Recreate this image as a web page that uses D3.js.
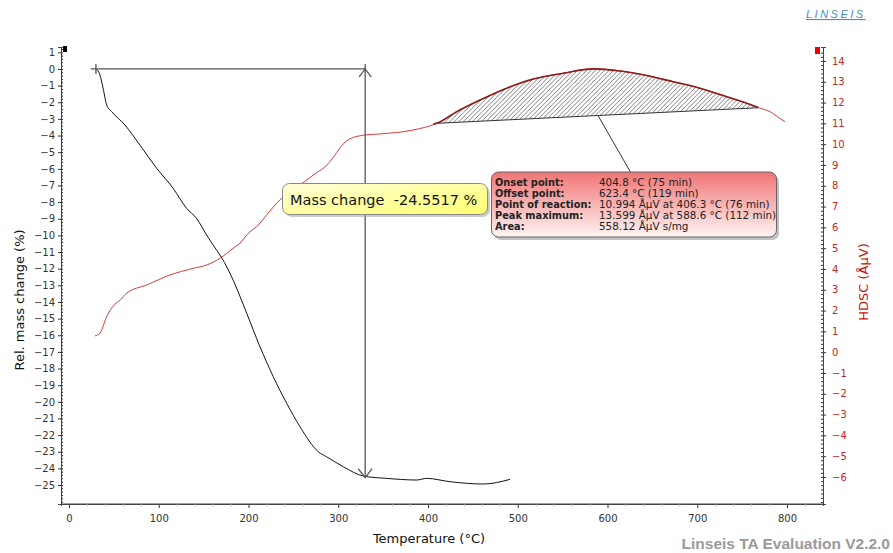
<!DOCTYPE html>
<html>
<head>
<meta charset="utf-8">
<script src="https://cdn.jsdelivr.net/npm/d3@7"></script>
<style>
  body { margin: 0; background: #fff; }
  svg { display: block; font-family: "DejaVu Sans", Verdana, sans-serif; }
</style>
</head>
<body>
<div class="chart"></div>
<script>
// TG curve (relative mass change, %)
const tgTemp = [30, 34.5, 38, 42, 47.5, 62.4, 79, 97.7, 116, 131, 142, 153.4, 164.6, 170, 183, 198, 212.8, 227.6, 242.6, 257.4, 277.8, 287, 305.6, 328, 354, 387.4, 398.5, 424.5, 461.6, 491.4];
const tgMass = [0, -0.36, -1.16, -2.16, -2.56, -3.37, -4.57, -5.97, -7.17, -8.37, -8.97, -9.98, -10.9, -11.33, -12.7, -14.68, -16.69, -18.49, -20.09, -21.5, -23.0, -23.3, -23.9, -24.46, -24.6, -24.7, -24.6, -24.8, -24.94, -24.66];

// HDSC curve (µV)
const dscTemp = [29, 34.5, 42, 51, 57, 64, 86.6, 112.5, 138.5, 153.4, 168.2, 183, 190.5, 198, 212.8, 220.3, 235, 257.4, 275, 287.5, 296.4, 304.2, 313, 329.8, 346.5, 383.6, 409.7, 432, 458, 487.7, 517.3, 550.8, 584, 614, 643.7, 673.3, 703, 732.8, 755, 770, 781, 792, 797.8];
const dscSignal = [0.78, 0.91, 1.71, 2.3, 2.5, 2.83, 3.23, 3.71, 4.03, 4.19, 4.51, 5.0, 5.24, 5.63, 6.2, 6.6, 7.32, 8.04, 8.6, 9.0, 9.48, 9.95, 10.25, 10.44, 10.49, 10.68, 11.0, 11.56, 12.12, 12.69, 13.13, 13.41, 13.62, 13.52, 13.3, 13.0, 12.69, 12.28, 11.97, 11.73, 11.56, 11.24, 11.08];

// peak integration baseline [temp, signal]
const peakStart = [406.3, 10.994];
const peakEnd = [768, 11.75];

// mass change step
const stepTemp = [30, 330];
const stepMass = [0, -24.5517];

const massTicks = d3.range(-25, 2, 1);
const dscTicks = d3.range(-6, 15, 1);
const tempTicks = d3.range(0, 900, 100);

const peakLabels = ["Onset point:", "Offset point:", "Point of reaction:", "Peak maximum:", "Area:"];
const peakValues = ["404.8 °C (75 min)", "623.4 °C (119 min)", "10.994 ÅµV at 406.3 °C (76 min)", "13.599 ÅµV at 588.6 °C (112 min)", "558.12 ÅµV s/mg"];

const width = 893, height = 553;
const svg = d3.select(".chart").append("svg")
  .attr("width", width)
  .attr("height", height);

const x = d3.scaleLinear().domain([-8.9, 840.1]).range([61, 823]);
const yL = d3.scaleLinear().domain([-26.14, 1.32]).range([504, 47]);
const yR = d3.scaleLinear().domain([-7.3, 14.67]).range([504, 47]);

const defs = svg.append("defs");
const hatch = defs.append("pattern")
  .attr("id", "hatch")
  .attr("patternUnits", "userSpaceOnUse")
  .attr("width", 4.5).attr("height", 4.5);
hatch.append("path")
  .attr("d", "M-1,1 l2,-2 M0,4.5 l4.5,-4.5 M3.5,5.5 l2,-2")
  .attr("stroke", "#444").attr("stroke-width", 0.7);

const gInfo = defs.append("linearGradient").attr("id", "infoGrad")
  .attr("x1", 0).attr("y1", 0).attr("x2", 0).attr("y2", 1);
gInfo.append("stop").attr("offset", 0).attr("stop-color", "#f07474");
gInfo.append("stop").attr("offset", 1).attr("stop-color", "#fff4f4");

const gMass = defs.append("linearGradient").attr("id", "massGrad")
  .attr("x1", 0).attr("y1", 0).attr("x2", 1).attr("y2", 1);
gMass.append("stop").attr("offset", 0).attr("stop-color", "#ffffd8");
gMass.append("stop").attr("offset", 1).attr("stop-color", "#ffff70");

// Axes
const axisColor = "#333";
const gLeft = svg.append("g").attr("transform", `translate(${x.range()[0]},0)`);
gLeft.call(d3.axisLeft(yL).tickValues(massTicks).tickSize(3).tickFormat(d3.format("d")));
gLeft.append("g").call(d3.axisRight(yL).tickValues(d3.range(-26, 1.3, 0.2)).tickSize(2).tickFormat(""));

const gRight = svg.append("g").attr("transform", `translate(${x.range()[1]},0)`);
gRight.call(d3.axisRight(yR).tickValues(dscTicks).tickSize(3).tickFormat(d3.format("d")));
gRight.append("g").call(d3.axisLeft(yR).tickValues(d3.range(-7.2, 14.6, 0.2)).tickSize(2).tickFormat(""));

const gBottom = svg.append("g").attr("transform", `translate(0,${yL.range()[0]})`);
gBottom.call(d3.axisBottom(x).tickValues(tempTicks).tickSize(4).tickFormat(d3.format("d")));
gBottom.append("g").call(d3.axisBottom(x).tickValues(d3.range(-0, 840, 20).filter(d => d % 100)).tickSize(2).tickFormat(""))
  .selectAll("line").attr("stroke", "#aaa");

svg.selectAll(".domain").attr("stroke", "#444");
svg.selectAll(".tick line").filter(function () { return !this.getAttribute("stroke") || this.getAttribute("stroke") === "currentColor"; }).attr("stroke", axisColor);
gLeft.selectAll(".tick text").attr("font-size", 10).attr("fill", "#333").attr("font-family", "DejaVu Sans");
gBottom.selectAll(".tick text").attr("font-size", 10).attr("fill", "#333").attr("dy", "1.1em").attr("font-family", "DejaVu Sans");
gRight.selectAll(".tick text").attr("font-size", 10).attr("fill", "#c02828").attr("x", 9).attr("font-family", "DejaVu Sans");
gBottom.select(".domain").attr("d", `M${x.range()[0]},0H${x.range()[1]}`);

// axis markers
svg.append("rect").attr("x", 63).attr("y", 46).attr("width", 4).attr("height", 6).attr("fill", "#000");
svg.append("rect").attr("x", 815).attr("y", 47).attr("width", 5).attr("height", 7).attr("fill", "#e00");

// Axis titles
svg.append("text")
  .attr("transform", `translate(24,300) rotate(-90)`)
  .attr("text-anchor", "middle")
  .attr("font-size", 13).attr("fill", "#111")
  .text("Rel. mass change (%)");
svg.append("text")
  .attr("transform", `translate(868,282) rotate(-90)`)
  .attr("text-anchor", "middle")
  .attr("font-size", 13).attr("fill", "#cc1111")
  .text("HDSC (ÅµV)");
svg.append("text")
  .attr("x", 429).attr("y", 543)
  .attr("text-anchor", "middle")
  .attr("font-size", 13).attr("fill", "#111")
  .text("Temperature (°C)");

// Peak hatch area
const dscPts = dscTemp.map((t, i) => [t, dscSignal[i]]);
const dscAt = t => {
  const i = d3.bisector(d => d[0]).left(dscPts, t);
  const a = dscPts[i - 1], b = dscPts[i];
  return a[1] + (b[1] - a[1]) * (t - a[0]) / (b[0] - a[0]);
};
const baseAt = t => peakStart[1] + (peakEnd[1] - peakStart[1]) * (t - peakStart[0]) / (peakEnd[0] - peakStart[0]);
const peakTop = [[peakStart[0], dscAt(peakStart[0])]]
  .concat(dscPts.filter(d => d[0] > peakStart[0] && d[0] < peakEnd[0]))
  .concat([[peakEnd[0], dscAt(peakEnd[0])]]);
const hatchPoly = peakTop.concat([[peakEnd[0], peakEnd[1]], [peakStart[0], peakStart[1]]]);

svg.append("path")
  .attr("d", d3.line().x(d => x(d[0])).y(d => yR(d[1]))(hatchPoly) + "Z")
  .attr("fill", "url(#hatch)");
svg.append("line")
  .attr("x1", x(peakStart[0])).attr("y1", yR(peakStart[1]))
  .attr("x2", x(peakEnd[0])).attr("y2", yR(peakEnd[1]))
  .attr("stroke", "#333").attr("stroke-width", 1);

// DSC curve
const lineR = d3.line().x(d => x(d[0])).y(d => yR(d[1])).curve(d3.curveMonotoneX);
svg.append("path").datum(dscPts)
  .attr("d", lineR)
  .attr("fill", "none").attr("stroke", "#d83a3a").attr("stroke-width", 1);
svg.append("path").datum(peakTop)
  .attr("d", lineR)
  .attr("fill", "none").attr("stroke", "#8a1c1c").attr("stroke-width", 1.6);

// TG curve
const tgPts = tgTemp.map((t, i) => [t, tgMass[i]]);
svg.append("path").datum(tgPts)
  .attr("d", d3.line().x(d => x(d[0])).y(d => yL(d[1])).curve(d3.curveMonotoneX))
  .attr("fill", "none").attr("stroke", "#111").attr("stroke-width", 1);

// Mass change step
const sx0 = x(stepTemp[0]), sx1 = x(stepTemp[1]);
const sy0 = yL(stepMass[0]), sy1 = yL(stepMass[1]);
const stepG = svg.append("g").attr("stroke", "#555").attr("stroke-width", 1.3).attr("fill", "none");
stepG.append("line").attr("x1", sx0 - 5).attr("y1", sy0).attr("x2", sx1).attr("y2", sy0);
stepG.append("line").attr("x1", sx0).attr("y1", sy0 - 5).attr("x2", sx0).attr("y2", sy0 + 5);
stepG.append("line").attr("x1", sx1).attr("y1", sy0 - 5).attr("x2", sx1).attr("y2", sy1);
stepG.append("path").attr("d", `M${sx1 - 6},${sy0 + 8}L${sx1},${sy0}L${sx1 + 6},${sy0 + 8}`);
stepG.append("path").attr("d", `M${sx1 - 7},${sy1 - 9}L${sx1},${sy1}L${sx1 + 7},${sy1 - 9}`);

// Mass change label box
const mb = svg.append("g");
mb.append("rect").attr("x", 285).attr("y", 186).attr("width", 205).attr("height", 31).attr("rx", 7)
  .attr("fill", "#aaa").attr("opacity", 0.6);
mb.append("rect").attr("x", 282.5).attr("y", 183.5).attr("width", 205).attr("height", 31).attr("rx", 7)
  .attr("fill", "url(#massGrad)").attr("stroke", "#888").attr("stroke-width", 1);
mb.append("text").attr("x", 290).attr("y", 205)
  .attr("font-size", 14.5).attr("fill", "#111")
  .style("white-space", "pre")
  .text(`Mass change  ${stepMass[1].toFixed(4)} %`);

// Peak leader line
const leadT = 589.4;
svg.append("line")
  .attr("x1", x(leadT)).attr("y1", yR(baseAt(leadT)))
  .attr("x2", 631).attr("y2", 173)
  .attr("stroke", "#333").attr("stroke-width", 1);

// Peak info box
const ib = svg.append("g");
ib.append("rect").attr("x", 494).attr("y", 175).attr("width", 285).attr("height", 65).attr("rx", 7)
  .attr("fill", "#999").attr("opacity", 0.6);
ib.append("rect").attr("x", 491.5).attr("y", 172).attr("width", 285).attr("height", 65).attr("rx", 7)
  .attr("fill", "url(#infoGrad)").attr("stroke", "#666").attr("stroke-width", 1);
peakLabels.forEach((lab, i) => {
  ib.append("text").attr("x", 495).attr("y", 186 + i * 11)
    .attr("font-size", 9.8).attr("font-weight", "bold").attr("fill", "#222").text(lab);
  ib.append("text").attr("x", 599).attr("y", 186 + i * 11)
    .attr("font-size", 10.4).attr("fill", "#222").text(peakValues[i]);
});

// Branding
svg.append("text").attr("x", 806).attr("y", 18)
  .attr("font-size", 11).attr("font-style", "italic").attr("letter-spacing", 2.5)
  .attr("fill", "#4a8fc4").attr("text-decoration", "underline")
  .attr("font-family", "Liberation Sans, Arial, sans-serif")
  .text("LINSEIS");
svg.append("text").attr("x", 890).attr("y", 549).attr("text-anchor", "end")
  .attr("font-size", 15.5).attr("font-weight", "bold").attr("fill", "#9a9a9a")
  .attr("font-family", "Liberation Sans, Arial, sans-serif")
  .text("Linseis TA Evaluation V2.2.0");
</script>
</body>
</html>
